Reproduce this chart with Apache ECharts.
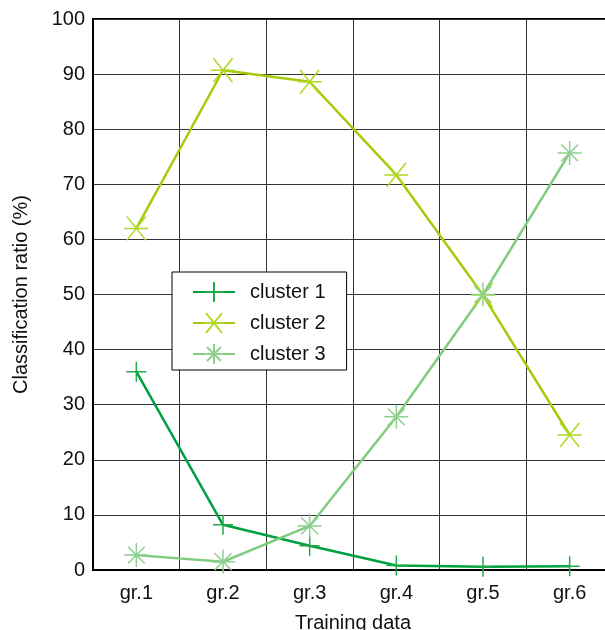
<!DOCTYPE html>
<html>
<head>
<meta charset="utf-8">
<script src="https://cdn.jsdelivr.net/npm/echarts@6/dist/echarts.min.js"></script>
<style>
  html, body { margin: 0; padding: 0; background: #fff; }
  #chart { width: 605px; height: 630px; }
</style>
</head>
<body>
<div id="chart"></div>
<script>
var categories = ['gr.1', 'gr.2', 'gr.3', 'gr.4', 'gr.5', 'gr.6'];
var cluster1 = [36, 8.2, 4.4, 0.8, 0.6, 0.7];
var cluster2 = [62, 90.7, 88.6, 71.7, 49.9, 24.5];
var cluster3 = [2.7, 1.5, 8, 27.8, 50, 75.7];
var seriesNames = ['cluster 1', 'cluster 2', 'cluster 3'];

var font = 'Liberation Sans, Arial, sans-serif';
var plusPath = 'path://M0,10L20,10M10,0L10,20';
var crossPath = 'path://M0,10L20,10M2,2L18,18M18,2L2,18';
var starPath = 'path://M0,10L20,10M10,0L10,20M3,3L17,17M17,3L3,17';

function makeSeries(name, data, lineColor, markColor, symbol, size) {
  return {
    name: name,
    type: 'line',
    data: data,
    symbol: symbol,
    symbolSize: size,
    showAllSymbol: true,
    lineStyle: { color: lineColor, width: 2.5 },
    itemStyle: { color: markColor, borderColor: markColor, borderWidth: 1.5 },
    emphasis: { disabled: true }
  };
}

var chart = echarts.init(document.getElementById('chart'));
chart.setOption({
  animation: false,
  textStyle: { fontFamily: font },
  grid: {
    left: 93, top: 19, width: 520, bottom: 60,
    outerBoundsMode: 'none',
    containLabel: false,
    show: true, borderColor: '#000', borderWidth: 2
  },
  legend: {
    left: 172, top: 272,
    orient: 'vertical',
    backgroundColor: '#fff',
    borderColor: '#000',
    borderWidth: 1,
    borderRadius: 0,
    padding: [9, 21, 5, 20],
    itemWidth: 42,
    itemHeight: 25,
    itemGap: 9,
    textStyle: { fontSize: 20, color: '#111', fontFamily: font, padding: [0, 0, 0, 10] },
    data: seriesNames
  },
  xAxis: {
    type: 'category',
    data: categories,
    boundaryGap: true,
    name: 'Training data',
    nameLocation: 'middle',
    nameGap: 43,
    nameTextStyle: { fontSize: 20, color: '#111' },
    axisLine: { lineStyle: { color: '#000', width: 2 } },
    axisTick: { show: false },
    axisLabel: { fontSize: 20, color: '#111', margin: 13 },
    splitLine: { show: true, lineStyle: { color: '#333', width: 1 } }
  },
  yAxis: {
    type: 'value',
    min: 0, max: 100, interval: 10,
    name: 'Classification ratio (%)',
    nameLocation: 'middle',
    nameGap: 62,
    nameTextStyle: { fontSize: 20, color: '#111' },
    axisLine: { show: true, lineStyle: { color: '#000', width: 2 } },
    axisTick: { show: false },
    axisLabel: { fontSize: 20, color: '#111', margin: 8 },
    splitLine: { show: true, lineStyle: { color: '#333', width: 1 } }
  },
  series: [
    makeSeries(seriesNames[0], cluster1, '#00a040', '#22aa4a', plusPath, 20),
    makeSeries(seriesNames[1], cluster2, '#a4cc0c', '#b0d820', crossPath, 24),
    makeSeries(seriesNames[2], cluster3, '#80cc80', '#8ed08e', starPath, 24)
  ]
});
</script>
</body>
</html>
